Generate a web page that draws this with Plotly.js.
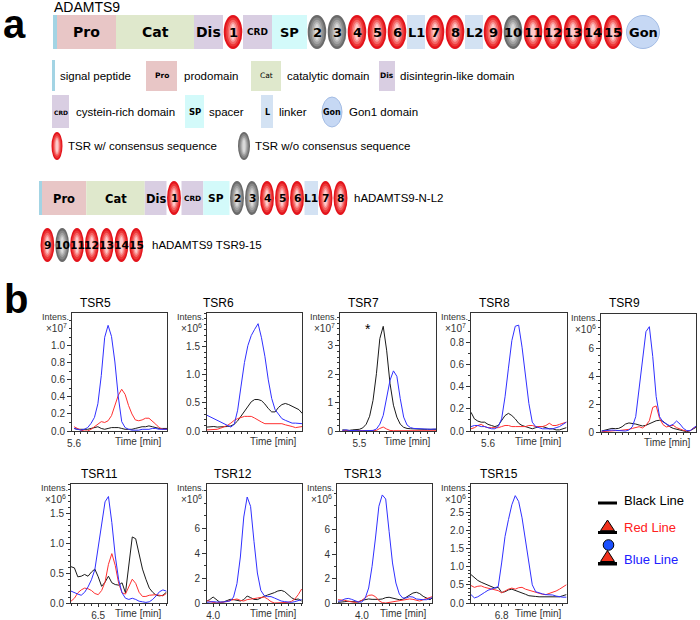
<!DOCTYPE html>
<html><head><meta charset="utf-8">
<script src="https://cdn.plot.ly/plotly-3.0.1.min.js"></script>
<style>html,body{margin:0;padding:0;background:#fff}#chart{width:700px;height:620px}</style>
</head><body><div id="chart"></div>
<script>
// ================= DATA =================
// Panel a: domain organisation
const constructNames = ['ADAMTS9', 'hADAMTS9-N-L2', 'hADAMTS9 TSR9-15'];
const fullConstruct = ['sig','Pro','Cat','Dis','1','CRD','SP','2','3','4','5','6','L1','7','8','L2','9','10','11','12','13','14','15','Gon'];
const nL2Construct = ['sig','Pro','Cat','Dis','1','CRD','SP','2','3','4','5','6','L1','7','8'];
const tsr915Construct = ['9','10','11','12','13','14','15'];
const tsrWithoutConsensus = ['2','3','10'];
const domainLegendLabels = ['signal peptide','prodomain','catalytic domain','disintegrin-like domain',
  'cystein-rich domain','spacer','linker','Gon1 domain','TSR w/ consensus sequence','TSR w/o consensus sequence'];

// Panel b: extracted ion chromatograms
const panelNames = ['TSR5','TSR6','TSR7','TSR8','TSR9','TSR11','TSR12','TSR13','TSR15'];
const intensityExponent = [7,6,7,7,6,6,6,6,6];
const xTickLabel = ['5.6','','5.5','5.6','','6.5','4.0','4.0','6.8'];
const seriesNames = ['Black Line','Red Line','Blue Line'];

const yTicksTSR5 = ['0.0','0.2','0.4','0.6','0.8','1.0'];
const yTicksTSR6 = ['0.0','0.5','1.0','1.5'];
const yTicksTSR7 = ['0','1','2','3'];
const yTicksTSR8 = ['0.0','0.2','0.4','0.6','0.8'];
const yTicksTSR9 = ['0','2','4','6'];
const yTicksTSR11 = ['0.0','0.5','1.0','1.5'];
const yTicksTSR12 = ['0','2','4','6'];
const yTicksTSR13 = ['0','2','4','6'];
const yTicksTSR15 = ['0.0','0.5','1.0','1.5','2.0','2.5'];

const timeTSR5 = [5.60,5.61,5.62,5.63,5.64,5.65,5.66,5.67,5.68,5.69,5.70,5.71,5.72,5.73,5.74,5.75,5.76,5.77,5.78,5.79,5.80,5.81,5.82,5.83,5.84,5.85,5.86,5.87,5.88];
const blackTSR5 = [0.03,0.02,0.02,0.02,0.02,0.03,0.04,0.05,0.03,0.02,0.03,0.04,0.04,0.04,0.03,0.02,0.02,0.02,0.03,0.04,0.05,0.05,0.06,0.05,0.04,0.03,0.03,0.03,0.03];
const redTSR5 = [0.05,0.03,0.01,0.00,0.00,0.02,0.05,0.09,0.11,0.10,0.12,0.18,0.31,0.42,0.49,0.43,0.30,0.20,0.13,0.12,0.13,0.15,0.15,0.12,0.08,0.04,0.02,0.02,0.02];
const blueTSR5 = [0.03,0.02,0.01,0.02,0.04,0.09,0.16,0.32,0.65,1.10,1.24,1.11,0.81,0.40,0.11,0.04,0.02,0.01,0.01,0.01,0.02,0.02,0.02,0.03,0.03,0.02,0.02,0.02,0.02];

const timeTSR6 = [5.62,5.63,5.64,5.65,5.66,5.67,5.68,5.69,5.70,5.71,5.72,5.73,5.74,5.75,5.76,5.77,5.78,5.79,5.80,5.81,5.82,5.83,5.84,5.85,5.86,5.87,5.88,5.89,5.90];
const blackTSR6 = [0.07,0.08,0.08,0.07,0.07,0.08,0.08,0.09,0.12,0.18,0.26,0.35,0.44,0.52,0.56,0.56,0.54,0.48,0.40,0.34,0.34,0.42,0.47,0.49,0.47,0.44,0.42,0.38,0.31];
const redTSR6 = [0.02,0.02,0.02,0.03,0.05,0.07,0.10,0.14,0.19,0.22,0.24,0.26,0.26,0.26,0.23,0.19,0.16,0.13,0.13,0.13,0.13,0.13,0.13,0.11,0.10,0.08,0.06,0.07,0.08];
const blueTSR6 = [0.28,0.25,0.22,0.19,0.16,0.13,0.10,0.07,0.12,0.37,0.80,1.22,1.52,1.70,1.81,1.91,1.66,1.33,0.91,0.58,0.38,0.29,0.22,0.19,0.16,0.14,0.14,0.14,0.13];

const timeTSR7 = [5.45,5.46,5.47,5.48,5.49,5.50,5.51,5.52,5.53,5.54,5.55,5.56,5.57,5.58,5.59,5.60,5.61,5.62,5.63,5.64,5.65,5.66,5.67,5.68,5.69,5.70,5.71,5.72,5.73];
const blackTSR7 = [0.04,0.02,0.02,0.04,0.04,0.06,0.11,0.24,0.52,1.08,2.02,3.26,3.69,2.85,1.67,0.91,0.49,0.24,0.13,0.09,0.08,0.07,0.07,0.06,0.06,0.06,0.06,0.07,0.06];
const redTSR7 = [0.01,0.01,0.01,0.01,0.01,0.01,0.01,0.01,0.01,0.01,0.02,0.09,0.14,0.07,0.02,0.01,0.01,0.01,0.01,0.01,0.01,0.01,0.01,0.01,0.01,0.01,0.01,0.01,0.01];
const blueTSR7 = [0.02,0.04,0.02,0.01,0.01,0.01,0.01,0.01,0.01,0.02,0.07,0.24,0.55,1.14,1.79,2.12,1.93,1.14,0.49,0.21,0.12,0.09,0.08,0.07,0.07,0.06,0.06,0.07,0.07];

const timeTSR8 = [5.55,5.56,5.57,5.58,5.59,5.60,5.61,5.62,5.63,5.64,5.65,5.66,5.67,5.68,5.69,5.70,5.71,5.72,5.73,5.74,5.75,5.76,5.77,5.78,5.79,5.80,5.81,5.82,5.83];
const blackTSR8 = [0.17,0.11,0.09,0.08,0.08,0.06,0.05,0.04,0.05,0.10,0.14,0.16,0.14,0.11,0.07,0.05,0.04,0.03,0.02,0.03,0.04,0.04,0.03,0.02,0.02,0.01,0.01,0.02,0.03];
const redTSR8 = [0.02,0.03,0.05,0.06,0.04,0.03,0.03,0.03,0.03,0.04,0.05,0.05,0.04,0.04,0.04,0.04,0.04,0.05,0.05,0.04,0.04,0.04,0.05,0.07,0.05,0.05,0.06,0.07,0.08];
const blueTSR8 = [0.04,0.05,0.05,0.04,0.04,0.03,0.02,0.02,0.04,0.11,0.31,0.57,0.82,0.95,0.96,0.76,0.49,0.25,0.08,0.04,0.03,0.02,0.02,0.02,0.02,0.03,0.04,0.06,0.08];

const timeTSR9 = [5.70,5.71,5.72,5.73,5.74,5.75,5.76,5.77,5.78,5.79,5.80,5.81,5.82,5.83,5.84,5.85,5.86,5.87,5.88,5.89,5.90,5.91,5.92,5.93,5.94,5.95,5.96,5.97,5.98];
const blackTSR9 = [0.07,0.12,0.19,0.26,0.24,0.26,0.38,0.57,0.65,0.62,0.57,0.50,0.43,0.48,0.60,0.72,0.81,0.84,0.77,0.57,0.38,0.26,0.19,0.12,0.05,0.02,0.10,0.26,0.38];
const redTSR9 = [0.02,0.05,0.07,0.07,0.10,0.10,0.12,0.14,0.19,0.26,0.33,0.38,0.29,0.48,0.81,1.77,1.87,0.98,0.53,0.36,0.43,0.48,0.31,0.19,0.12,0.07,0.10,0.29,0.43];
const blueTSR9 = [0.07,0.10,0.12,0.14,0.12,0.10,0.10,0.07,0.14,0.38,1.10,3.13,5.29,7.20,7.56,5.41,2.54,1.10,0.72,0.57,0.45,0.55,0.79,0.57,0.26,0.10,0.10,0.29,0.48];

const timeTSR11 = [6.42,6.43,6.44,6.45,6.46,6.47,6.48,6.49,6.50,6.51,6.52,6.53,6.54,6.55,6.56,6.57,6.58,6.59,6.60,6.61,6.62,6.63,6.64,6.65,6.66,6.67,6.68,6.69,6.70];
const blackTSR11 = [0.61,0.59,0.44,0.45,0.48,0.45,0.52,0.57,0.44,0.28,0.35,0.45,0.34,0.31,0.30,0.34,0.17,0.67,1.11,1.08,0.85,0.57,0.40,0.25,0.18,0.13,0.12,0.13,0.18];
const redTSR11 = [0.03,0.08,0.17,0.22,0.25,0.24,0.21,0.16,0.14,0.21,0.35,0.65,0.83,0.63,0.33,0.17,0.15,0.29,0.40,0.33,0.18,0.11,0.11,0.13,0.14,0.14,0.13,0.12,0.16];
const blueTSR11 = [0.20,0.17,0.15,0.13,0.18,0.27,0.39,0.56,0.96,1.32,1.70,1.79,1.35,0.79,0.39,0.17,0.08,0.06,0.08,0.06,0.03,0.02,0.01,0.02,0.06,0.12,0.19,0.22,0.20];

const timeTSR12 = [3.98,3.99,4.00,4.01,4.02,4.03,4.04,4.05,4.06,4.07,4.08,4.09,4.10,4.11,4.12,4.13,4.14,4.15,4.16,4.17,4.18,4.19,4.20,4.21,4.22,4.23,4.24,4.25,4.26];
const blackTSR12 = [0.13,0.27,0.48,0.27,0.05,0.08,0.16,0.29,0.27,0.19,0.16,0.27,0.56,0.43,0.29,0.27,0.43,0.53,0.64,0.72,0.83,0.96,1.01,0.91,0.67,0.43,0.27,0.32,0.16];
const redTSR12 = [0.21,0.11,0.05,0.00,0.03,0.05,0.11,0.21,0.29,0.32,0.21,0.16,0.27,0.29,0.35,0.40,0.45,0.48,0.32,0.11,0.00,0.00,0.00,0.00,0.05,0.13,0.32,0.67,1.12];
const blueTSR12 = [0.05,0.11,0.11,0.08,0.05,0.08,0.13,0.16,0.48,1.55,3.68,6.88,8.48,7.73,4.93,2.40,1.01,0.59,0.51,0.51,0.40,0.27,0.16,0.11,0.05,0.05,0.11,0.16,0.27];

const timeTSR13 = [3.93,3.94,3.95,3.96,3.97,3.98,3.99,4.00,4.01,4.02,4.03,4.04,4.05,4.06,4.07,4.08,4.09,4.10,4.11,4.12,4.13,4.14,4.15,4.16,4.17,4.18,4.19,4.20,4.21];
const blackTSR13 = [0.05,0.05,0.11,0.14,0.14,0.08,0.08,0.22,0.30,0.33,0.30,0.27,0.30,0.33,0.44,0.47,0.41,0.30,0.27,0.30,0.47,0.68,0.82,0.88,0.77,0.55,0.41,0.27,0.49];
const redTSR13 = [0.27,0.27,0.22,0.14,0.08,0.05,0.11,0.22,0.44,0.63,0.66,0.52,0.19,0.03,0.00,0.05,0.11,0.16,0.22,0.27,0.30,0.33,0.30,0.25,0.16,0.27,0.38,0.49,0.55];
const blueTSR13 = [0.14,0.19,0.33,0.38,0.30,0.16,0.08,0.08,0.41,1.23,3.01,5.34,7.95,8.88,8.55,5.89,3.29,1.64,0.74,0.41,0.41,0.52,0.49,0.33,0.27,0.27,0.27,0.38,0.47];

const timeTSR15 = [6.71,6.72,6.73,6.74,6.75,6.76,6.77,6.78,6.79,6.80,6.81,6.82,6.83,6.84,6.85,6.86,6.87,6.88,6.89,6.90,6.91,6.92,6.93,6.94,6.95,6.96,6.97,6.98,6.99];
const blackTSR15 = [0.78,0.69,0.62,0.57,0.53,0.49,0.45,0.41,0.43,0.29,0.31,0.36,0.38,0.35,0.31,0.27,0.24,0.20,0.18,0.18,0.17,0.17,0.16,0.16,0.16,0.16,0.17,0.20,0.23];
const redTSR15 = [0.48,0.43,0.46,0.47,0.43,0.41,0.40,0.38,0.34,0.28,0.34,0.38,0.41,0.38,0.42,0.43,0.38,0.35,0.31,0.28,0.26,0.24,0.23,0.26,0.28,0.33,0.38,0.44,0.50];
const blueTSR15 = [0.23,0.14,0.17,0.24,0.29,0.35,0.39,0.41,0.45,1.10,1.83,2.29,2.70,2.95,2.79,2.34,1.69,1.01,0.50,0.31,0.27,0.25,0.23,0.23,0.22,0.19,0.17,0.16,0.16];

// ================= LAYOUT / STYLE =================
const W = 700, H = 620;
const px = x => x / W, py = y => 1 - y / H;
const SANS = 'Liberation Sans, Arial, sans-serif';
const BOLDF = 'DejaVu Sans, Verdana, sans-serif';
const NARROW_SIZE = 11.5;   // condensed look of the original labels

const shapes = [], annotations = [];
function rect(x0, y0, x1, y1, fill, line) {
  shapes.push({type:'rect', xref:'paper', yref:'paper', x0:px(x0), x1:px(x1), y0:py(y1), y1:py(y0),
    fillcolor:fill, line: line || {width:0}, layer:'above'});
}
function ellipse(cx, cy, rx, ry, fill, line) {
  shapes.push({type:'circle', xref:'paper', yref:'paper', x0:px(cx-rx), x1:px(cx+rx), y0:py(cy+ry), y1:py(cy-ry),
    fillcolor:fill, line: line || {width:0}, layer:'above'});
}
function poly(pts, fill, line) {
  const d = pts.map((p, i) => (i ? 'L' : 'M') + px(p[0]) + ',' + py(p[1])).join(' ') + ' Z';
  shapes.push({type:'path', xref:'paper', yref:'paper', path:d, fillcolor:fill, line: line || {width:0}, layer:'above'});
}
function text(x, y, str, o) {
  o = o || {};
  annotations.push({xref:'paper', yref:'paper', x:px(x), y:py(y), text:str, showarrow:false,
    xanchor:o.anchor || 'center', yanchor:'middle', borderpad:0,
    font:{family:o.family || SANS, size:o.size || 12, color:o.color || '#000'}});
}

const RED_STEPS = ['#e3141c','#ec3838','#f46666','#f99a9a','#fdcaca'];
const GRAY_STEPS = ['#6a6a6a','#878787','#a3a3a3','#bfbfbf','#d9d9d9'];
const STEP_SCALE = [1, 0.8, 0.6, 0.42, 0.25];
function drawTSR(cx, cy, rx, ry, gray) {
  const cols = gray ? GRAY_STEPS : RED_STEPS;
  STEP_SCALE.forEach((s, i) => ellipse(cx, cy, rx * s, ry * (0.3 + 0.7 * s), cols[i]));
}

const FILL = {sig:'#a3d4e4', Pro:'#e8c6c6', Cat:'#dfe8cc', Dis:'#d9cee2', CRD:'#d9cee2', SP:'#d3fafa', L:'#d3e2f3'};
const WIDTH = {sig:4, Pro:59, Cat:78, Dis:29, CRD:29, SP:35, L:18, tsr:20, Gon:34};
const LABEL_SIZE = {Pro:14, Cat:14, Dis:14, CRD:9, SP:13, L:13, tsr:13, Gon:13};
function typeOf(el) {
  if (/^\d+$/.test(el)) return 'tsr';
  if (/^L\d/.test(el)) return 'L';
  return el;
}
function drawConstruct(list, x0, top, h, s, fs) {
  let x = x0;
  const cy = top + h / 2;
  list.forEach(el => {
    const t = typeOf(el);
    if (t === 'Gon') x += 3 * s;
    const w = WIDTH[t] * s, cx = x + w / 2;
    if (t === 'tsr') drawTSR(cx, cy, w * 0.465, h / 2, tsrWithoutConsensus.includes(el));
    else if (t === 'Gon') ellipse(cx, cy, w / 2 - 0.5, h / 2 - 0.5, '#c6d8f4', {color:'#a3bce4', width:1});
    else rect(x, top, x + w, top + h, FILL[t]);
    if (t !== 'sig') text(cx, cy + 0.5, '<b>' + el + '</b>', {family:BOLDF, size:LABEL_SIZE[t] * fs});
    x += w;
  });
  return x;
}

// ---- panel a ----
text(2, 24, '<b>a</b>', {anchor:'left', size:40, family:SANS});
text(53, 7.5, constructNames[0], {anchor:'left', size:14});
drawConstruct(fullConstruct, 53, 15, 34, 1, 1);
const endN = drawConstruct(nL2Construct, 39, 181, 34, 0.75, 0.82);
text(endN + 5, 198, constructNames[1], {anchor:'left', size:NARROW_SIZE});
const endT = drawConstruct(tsr915Construct, 40, 228, 34, 0.74, 0.82);
text(endT + 7, 245, constructNames[2], {anchor:'left', size:NARROW_SIZE});

// domain legend
const LT = {size:NARROW_SIZE, anchor:'left'};
rect(52, 60, 55, 91, FILL.sig);                 text(59, 76, domainLegendLabels[0], LT);
rect(146, 61, 177, 91, FILL.Pro); text(161.5, 76, '<b>Pro</b>', {family:BOLDF, size:7.5}); text(183, 76, domainLegendLabels[1], LT);
rect(251, 61, 281, 91, FILL.Cat); text(266, 76, 'Cat', {family:BOLDF, size:7.5}); text(286, 76, domainLegendLabels[2], LT);
rect(379, 61, 395, 91, FILL.Dis); text(387, 76, '<b>Dis</b>', {family:BOLDF, size:7.5}); text(399, 76, domainLegendLabels[3], LT);
rect(52, 95, 69, 128, FILL.CRD); text(60.5, 112, '<b>CRD</b>', {family:BOLDF, size:6}); text(75, 112, domainLegendLabels[4], LT);
rect(185, 95, 204, 128, FILL.SP); text(194.5, 112, '<b>SP</b>', {family:BOLDF, size:8.5}); text(208, 112, domainLegendLabels[5], LT);
rect(261, 95, 273, 128, FILL.L); text(267, 112, '<b>L</b>', {family:BOLDF, size:8}); text(278, 112, domainLegendLabels[6], LT);
ellipse(332, 112, 10, 15, '#c6d8f4', {color:'#a3bce4', width:1}); text(332, 112, '<b>Gon</b>', {family:BOLDF, size:8}); text(348, 112, domainLegendLabels[7], LT);
drawTSR(57, 146, 5.5, 14, false); text(67, 146, domainLegendLabels[8], LT);
drawTSR(244, 146, 6, 14, true); text(254, 146, domainLegendLabels[9], LT);

// ---- panel b ----
text(3, 299, '<b>b</b>', {anchor:'left', size:40, family:SANS});

const times = [timeTSR5,timeTSR6,timeTSR7,timeTSR8,timeTSR9,timeTSR11,timeTSR12,timeTSR13,timeTSR15];
const blacks = [blackTSR5,blackTSR6,blackTSR7,blackTSR8,blackTSR9,blackTSR11,blackTSR12,blackTSR13,blackTSR15];
const reds = [redTSR5,redTSR6,redTSR7,redTSR8,redTSR9,redTSR11,redTSR12,redTSR13,redTSR15];
const blues = [blueTSR5,blueTSR6,blueTSR7,blueTSR8,blueTSR9,blueTSR11,blueTSR12,blueTSR13,blueTSR15];
const yTicks = [yTicksTSR5,yTicksTSR6,yTicksTSR7,yTicksTSR8,yTicksTSR9,yTicksTSR11,yTicksTSR12,yTicksTSR13,yTicksTSR15];

const PANEL_FRAMES = [[72,167,313,431],[207,302,313,431],[340,436,313,431],[471,567,313,431],[601,696,314,432],
                      [71,167,484,603],[207,302,484,603],[337,432,484,603],[471,567,484,603]];
const TITLE_LEFT = [79,202,347,478,608,80,213,343,479];
const X_RANGES = [[5.594,5.873],[5.62,5.899],[5.443,5.725],[5.55,5.832],[5.698,5.977],[6.42,6.702],[3.982,4.261],[3.927,4.206],[6.71,6.992]];
const Y_TOPS = [1.385,2.1,4.16,1.07,8.47,2.0,9.52,9.78,3.27];
const Y_MINOR = [0.1,0.1,0.2,0.1,0.5,0.1,1,1,0.1];
const LINE_COLORS = ['#1a1a1a','#ff3030','#3030ff'];
const AX = '#333';

const traces = [];
const layout = {
  width: W, height: H, margin:{l:0,r:0,t:0,b:0}, paper_bgcolor:'#fff', plot_bgcolor:'#fff',
  showlegend:false, font:{family:SANS, color:'#000'}, shapes, annotations
};
panelNames.forEach((name, i) => {
  const sfx = i === 0 ? '' : String(i + 1);
  const [L, R, T, B] = PANEL_FRAMES[i];
  [blacks[i], reds[i], blues[i]].forEach((vals, j) => {
    traces.push({type:'scatter', mode:'lines', x:times[i], y:vals, name:seriesNames[j],
      xaxis:'x' + sfx, yaxis:'y' + sfx, line:{color:LINE_COLORS[j], width:1}, hoverinfo:'skip', showlegend:false});
  });
  const [x0, x1] = X_RANGES[i];
  const xLab = xTickLabel[i];
  const common = {showline:true, mirror:true, linecolor:AX, linewidth:1, ticks:'outside', ticklen:4, tickwidth:1,
    tickcolor:AX, showgrid:false, zeroline:false, fixedrange:true, tickmode:'array',
    tickfont:{family:SANS, size:10, color:AX}};
  layout['xaxis' + sfx] = Object.assign({}, common, {
    domain:[px(L), px(R)], range:[x0, x1], anchor:'y' + sfx, ticklen:3,
    tickvals: xLab ? [Number(xLab)] : [], ticktext: xLab ? [xLab] : [],
    minor:{ticks:'outside', ticklen:2, tickwidth:1, tickcolor:AX, tickmode:'linear', tick0:0, dtick:0.02}
  });
  layout['yaxis' + sfx] = Object.assign({}, common, {
    domain:[py(B), py(T)], range:[0, Y_TOPS[i]], anchor:'x' + sfx,
    tickvals: yTicks[i].map(Number), ticktext: yTicks[i],
    minor:{ticks:'outside', ticklen:2, tickwidth:1, tickcolor:AX, tickmode:'linear', tick0:0, dtick:Y_MINOR[i]}
  });
  const rowTitleY = T < 400 ? 303 : 474;
  text(TITLE_LEFT[i], rowTitleY, name, {anchor:'left', size:12});
  text(L - 2, T + 4, 'Intens.', {anchor:'right', size:9, color:AX});
  text(L - 4, T + 15, '×10<sup>' + intensityExponent[i] + '</sup>', {anchor:'right', size:10, color:AX});
  text(R - 4, B + 10, 'Time [min]', {anchor:'right', size:10, color:AX});
});
text(368, 329, '*', {size:14});

// series legend (panel b)
rect(598, 501.5, 617, 504.5, '#000');
text(623, 500.5, seriesNames[0], {anchor:'left', size:13});
poly([[607.5,520],[600.5,530.7],[614.5,530.7]], '#f0301c', {color:'#000', width:1});
rect(598, 531, 617, 534, '#000');
text(623, 527.5, seriesNames[1], {anchor:'left', size:13, color:'#ff2020'});
ellipse(608.5, 545, 5.3, 5.3, '#1a50ff', {color:'#000', width:1});
poly([[607.5,550.5],[600.5,561.5],[614.5,561.5]], '#f0301c', {color:'#000', width:1});
rect(598, 562, 617, 565.5, '#000');
text(623, 559, seriesNames[2], {anchor:'left', size:13, color:'#2020ff'});

Plotly.newPlot('chart', traces, layout, {staticPlot:true, displayModeBar:false});
</script>
</body></html>
